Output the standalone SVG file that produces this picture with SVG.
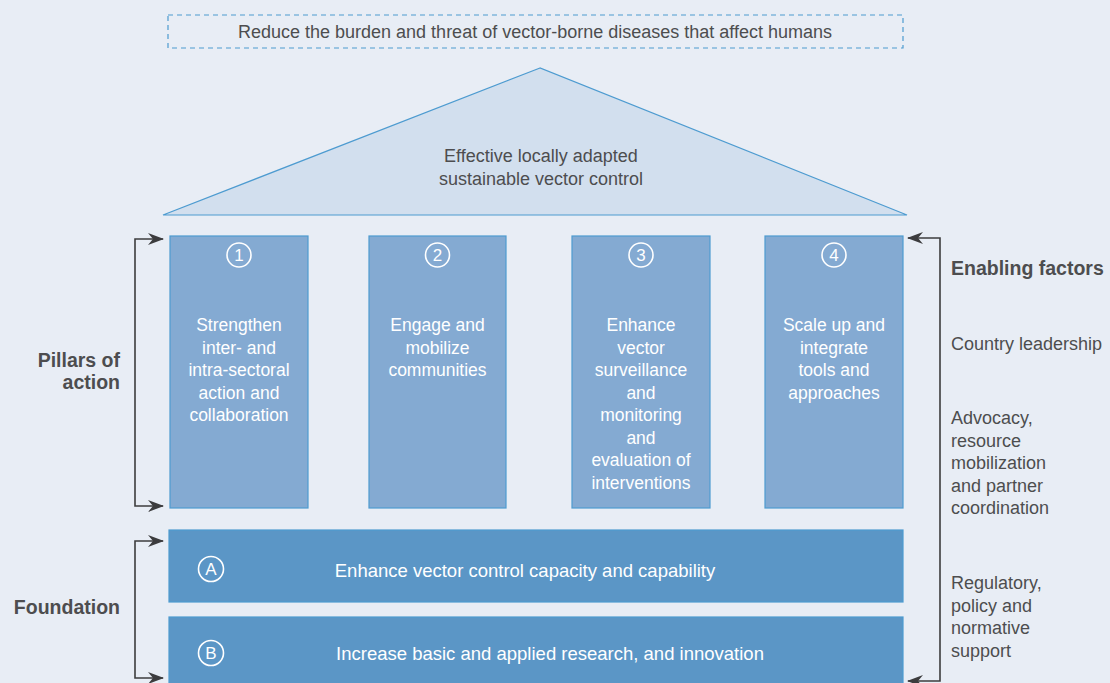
<svg xmlns="http://www.w3.org/2000/svg" width="1110" height="683" viewBox="0 0 1110 683">
<defs>
<style>
text{font-family:"Liberation Sans","DejaVu Sans",sans-serif;}
.dark{fill:#4d4d4f;font-size:18px;}
.bold{fill:#4d4d4f;font-size:19.5px;font-weight:bold;}
.w{fill:#ffffff;font-size:17.5px;text-anchor:middle;}
.num{fill:#ffffff;font-size:17px;text-anchor:middle;}
.pillar{fill:#84aad2;stroke:#4d9bd0;stroke-width:1.2;}
.found{fill:#5b96c6;stroke:#4d9bd0;stroke-width:1.2;}
.circ{fill:none;stroke:#ffffff;stroke-width:1.6;}
.conn{fill:none;stroke:#3c3c3e;stroke-width:1.6;}
</style>
<marker id="ah" viewBox="0 0 16 12" refX="15" refY="6" markerWidth="16" markerHeight="12" markerUnits="userSpaceOnUse" orient="auto-start-reverse">
<path d="M0,0 L16,6 L0,12 L5,6 z" fill="#3c3c3e"/>
</marker>
</defs>
<rect width="1110" height="683" fill="#e8edf5"/>

<g id="goal">
<rect x="168" y="15" width="735" height="33" fill="none" stroke="#4d9bd0" stroke-width="1.2" stroke-dasharray="5,4"/>
<text class="dark" x="535" y="38" text-anchor="middle">Reduce the burden and threat of vector-borne diseases that affect humans</text>
</g>

<g id="roof">
<polygon points="540,68 163,215 907,215" fill="#d2dfee" stroke="#4d9bd0" stroke-width="1.2"/>
<text class="dark" x="541" y="162" text-anchor="middle">Effective locally adapted</text>
<text class="dark" x="541" y="185" text-anchor="middle">sustainable vector control</text>
</g>

<g id="pillar1">
<rect class="pillar" x="170" y="236" width="138" height="272"/>
<circle class="circ" cx="239" cy="255" r="12"/>
<text class="num" x="239" y="261">1</text>
<text class="w" x="239" y="331">Strengthen</text>
<text class="w" x="239" y="353.5">inter- and</text>
<text class="w" x="239" y="376">intra-sectoral</text>
<text class="w" x="239" y="398.5">action and</text>
<text class="w" x="239" y="421">collaboration</text>
</g>

<g id="pillar2">
<rect class="pillar" x="369" y="236" width="137" height="272"/>
<circle class="circ" cx="437.5" cy="255" r="12"/>
<text class="num" x="437.5" y="261">2</text>
<text class="w" x="437.5" y="331">Engage and</text>
<text class="w" x="437.5" y="353.5">mobilize</text>
<text class="w" x="437.5" y="376">communities</text>
</g>

<g id="pillar3">
<rect class="pillar" x="572" y="236" width="138" height="272"/>
<circle class="circ" cx="641" cy="255" r="12"/>
<text class="num" x="641" y="261">3</text>
<text class="w" x="641" y="331">Enhance</text>
<text class="w" x="641" y="353.5">vector</text>
<text class="w" x="641" y="376">surveillance</text>
<text class="w" x="641" y="398.5">and</text>
<text class="w" x="641" y="421">monitoring</text>
<text class="w" x="641" y="443.5">and</text>
<text class="w" x="641" y="466">evaluation of</text>
<text class="w" x="641" y="488.5">interventions</text>
</g>

<g id="pillar4">
<rect class="pillar" x="765" y="236" width="138" height="272"/>
<circle class="circ" cx="834" cy="255" r="12"/>
<text class="num" x="834" y="261">4</text>
<text class="w" x="834" y="331">Scale up and</text>
<text class="w" x="834" y="353.5">integrate</text>
<text class="w" x="834" y="376">tools and</text>
<text class="w" x="834" y="398.5">approaches</text>
</g>

<g id="foundationA">
<rect class="found" x="169" y="530" width="734" height="72"/>
<circle class="circ" cx="211" cy="569" r="12.5"/>
<text class="num" x="211" y="575">A</text>
<text class="w" x="525" y="577" style="font-size:18.5px">Enhance vector control capacity and capability</text>
</g>

<g id="foundationB">
<rect class="found" x="169" y="617" width="734" height="72"/>
<circle class="circ" cx="211" cy="653" r="12.5"/>
<text class="num" x="211" y="659">B</text>
<text class="w" x="550" y="660" style="font-size:18.5px">Increase basic and applied research, and innovation</text>
</g>

<g id="labels">
<text class="bold" x="120" y="367" text-anchor="end">Pillars of</text>
<text class="bold" x="120" y="389" text-anchor="end">action</text>
<text class="bold" x="120" y="614" text-anchor="end">Foundation</text>
<text class="bold" x="951" y="275">Enabling factors</text>
<text class="dark" x="951" y="350">Country leadership</text>
<text class="dark" x="951" y="424">Advocacy,</text>
<text class="dark" x="951" y="446.5">resource</text>
<text class="dark" x="951" y="469">mobilization</text>
<text class="dark" x="951" y="491.5">and partner</text>
<text class="dark" x="951" y="514">coordination</text>
<text class="dark" x="951" y="589">Regulatory,</text>
<text class="dark" x="951" y="611.5">policy and</text>
<text class="dark" x="951" y="634">normative</text>
<text class="dark" x="951" y="656.5">support</text>
</g>

<g id="connectors">
<path class="conn" d="M163,239 H135 V506 H163" marker-start="url(#ah)" marker-end="url(#ah)"/>
<path class="conn" d="M163,541 H135 V678 H163" marker-start="url(#ah)" marker-end="url(#ah)"/>
<path class="conn" d="M908,238 H940 V681 H908" marker-start="url(#ah)" marker-end="url(#ah)"/>
</g>
</svg>
